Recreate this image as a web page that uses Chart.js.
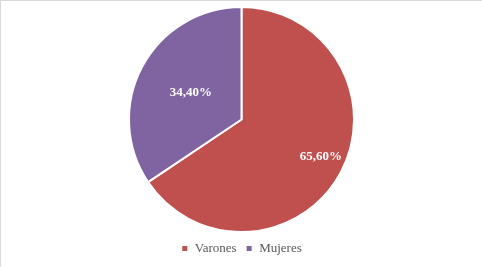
<!DOCTYPE html>
<html>
<head>
<meta charset="utf-8">
<script src="https://cdn.jsdelivr.net/npm/chart.js@4/dist/chart.umd.min.js"></script>
<style>
  html, body { margin: 0; padding: 0; background: #fff; }
  #wrap { position: relative; width: 482px; height: 267px; box-sizing: border-box; border-top: 1px solid #d9d9d9; border-left: 1px solid #d9d9d9; }
  canvas { display: block; }
</style>
</head>
<body>
<div id="wrap"><canvas id="c" width="481" height="266"></canvas></div>
<script>
const categories = ["Varones", "Mujeres"];
const values = [65.6, 34.4];
const valueLabels = ["65,60%", "34,40%"];
const colors = ["#C0504D", "#8064A2"];

const labelPlugin = {
  id: 'sliceLabels',
  afterDatasetsDraw(chart) {
    const ctx = chart.ctx;
    const meta = chart.getDatasetMeta(0);
    const factors = [0.78, 0.51];
    const angleShift = [-0.05, 0];
    ctx.save();
    ctx.fillStyle = '#ffffff';
    ctx.font = 'bold 13px "Liberation Serif", "DejaVu Serif", serif';
    ctx.textAlign = 'center';
    ctx.textBaseline = 'middle';
    meta.data.forEach((arc, i) => {
      const p = arc.getProps(['x', 'y', 'startAngle', 'endAngle', 'outerRadius']);
      const mid = (p.startAngle + p.endAngle) / 2 + angleShift[i];
      const r = p.outerRadius * factors[i];
      ctx.fillText(valueLabels[i], p.x + Math.cos(mid) * r, p.y + Math.sin(mid) * r);
    });
    ctx.restore();
  }
};

new Chart(document.getElementById('c'), {
  type: 'pie',
  data: {
    labels: categories,
    datasets: [{
      data: values,
      backgroundColor: colors,
      borderColor: '#ffffff',
      borderWidth: 2
    }]
  },
  options: {
    responsive: false,
    animation: false,
    layout: { padding: { top: 5, bottom: 2, left: 0, right: 0 } },
    plugins: {
      tooltip: { enabled: false },
      legend: {
        position: 'bottom',
        labels: {
          boxWidth: 7,
          boxHeight: 7,
          padding: 9,
          color: '#595959',
          font: { family: '"Liberation Serif", "DejaVu Serif", serif', size: 13 }
        }
      }
    }
  },
  plugins: [labelPlugin]
});
</script>
</body>
</html>
